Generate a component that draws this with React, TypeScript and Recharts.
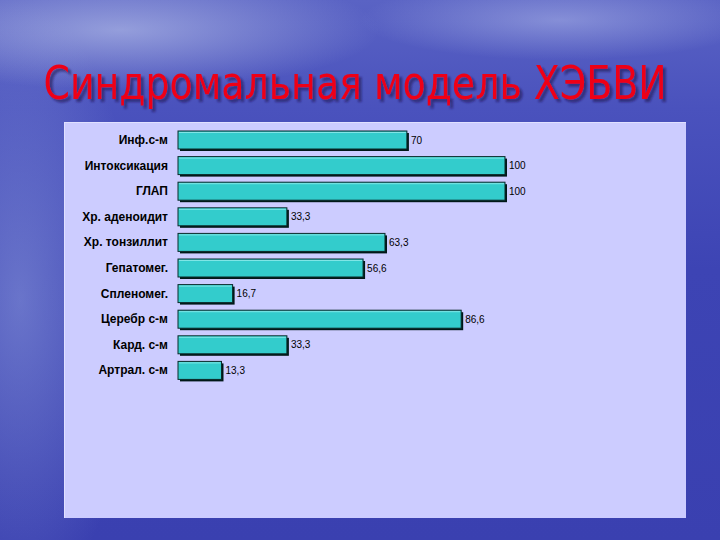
import React from 'react';
import { BarChart, Bar, XAxis, YAxis, LabelList } from 'recharts';

const categories = [
  'Инф.с-м',
  'Интоксикация',
  'ГЛАП',
  'Хр.  аденоидит',
  'Хр. тонзиллит',
  'Гепатомег.',
  'Спленомег.',
  'Церебр с-м',
  'Кард. с-м',
  'Артрал. с-м',
];
const values = [70, 100, 100, 33.3, 63.3, 56.6, 16.7, 86.6, 33.3, 13.3];

const data = categories.map((name, i) => ({ name, value: values[i] }));

const BarShape = (props: any) => {
  const { x, y, width, height } = props;
  if (!width || width <= 0) return null;
  return (
    <g>
      <rect x={x + 2} y={y + 2} width={width} height={height} fill="#001818" />
      <rect x={x} y={y} width={width} height={height} fill="#33cccc" stroke="#0a2a2a" strokeWidth={1} />
      <line x1={x + 1} y1={y + 1.5} x2={x + width - 1} y2={y + 1.5} stroke="#7fe6e6" strokeWidth={1} />
    </g>
  );
};

export default function App() {
  return (
    <div
      style={{
        position: 'absolute',
        left: 0,
        top: 0,
        width: 720,
        height: 540,
        overflow: 'hidden',
        background:
          'radial-gradient(ellipse 260px 60px at 120px 30px, rgba(200,210,240,0.55), rgba(200,210,240,0) 100%),' +
          'radial-gradient(ellipse 200px 40px at 560px 20px, rgba(190,200,240,0.45), rgba(190,200,240,0) 100%),' +
          'radial-gradient(ellipse 120px 300px at 20px 300px, rgba(150,165,225,0.5), rgba(150,165,225,0) 100%),' +
          'linear-gradient(180deg, #5a63c4 0%, #4a52bd 20%, #3d44b4 50%, #3a40b0 100%)',
      }}
    >
      <svg width={720} height={540} style={{ position: 'absolute', left: 0, top: 0 }}>
        <defs>
          <filter id="tshadow" x="-5%" y="-20%" width="110%" height="150%">
            <feDropShadow dx={3} dy={3} stdDeviation={1} floodColor="#1a1050" floodOpacity={0.6} />
          </filter>
        </defs>
        <text
          x={355}
          y={99}
          textAnchor="middle"
          textLength={623}
          lengthAdjust="spacingAndGlyphs"
          fontFamily="'DejaVu Sans Condensed', Arial, sans-serif"
          fontSize={47}
          fill="#ee0018"
          filter="url(#tshadow)"
        >
          Синдромальная модель ХЭБВИ
        </text>
      </svg>
      <div
        style={{
          position: 'absolute',
          left: 64,
          top: 122,
          width: 622,
          height: 396,
          background: '#ccccff',
          boxShadow: '1px 1px 0 #e0e0ff inset',
        }}
      >
        <BarChart
          layout="vertical"
          width={622}
          height={396}
          data={data}
          margin={{ top: 5, right: 181, bottom: 135, left: 0 }}
          barCategoryGap={7}
        >
          <XAxis type="number" domain={[0, 100]} hide />
          <YAxis
            type="category"
            dataKey="name"
            width={114}
            axisLine={false}
            tickLine={false}
            tickMargin={4}
            interval={0}
            tick={{ fill: '#000', fontSize: 12, fontWeight: 'bold', fontFamily: 'Arial, Liberation Sans, sans-serif' }}
          />
          <Bar dataKey="value" barSize={18} shape={BarShape} isAnimationActive={false}>
            <LabelList
              dataKey="value"
              position="right"
              offset={4}
              formatter={(v: any) => String(v).replace('.', ',')}
              style={{ fill: '#000', fontSize: 10, fontFamily: 'Arial, Liberation Sans, sans-serif' }}
            />
          </Bar>
        </BarChart>
      </div>
    </div>
  );
}
